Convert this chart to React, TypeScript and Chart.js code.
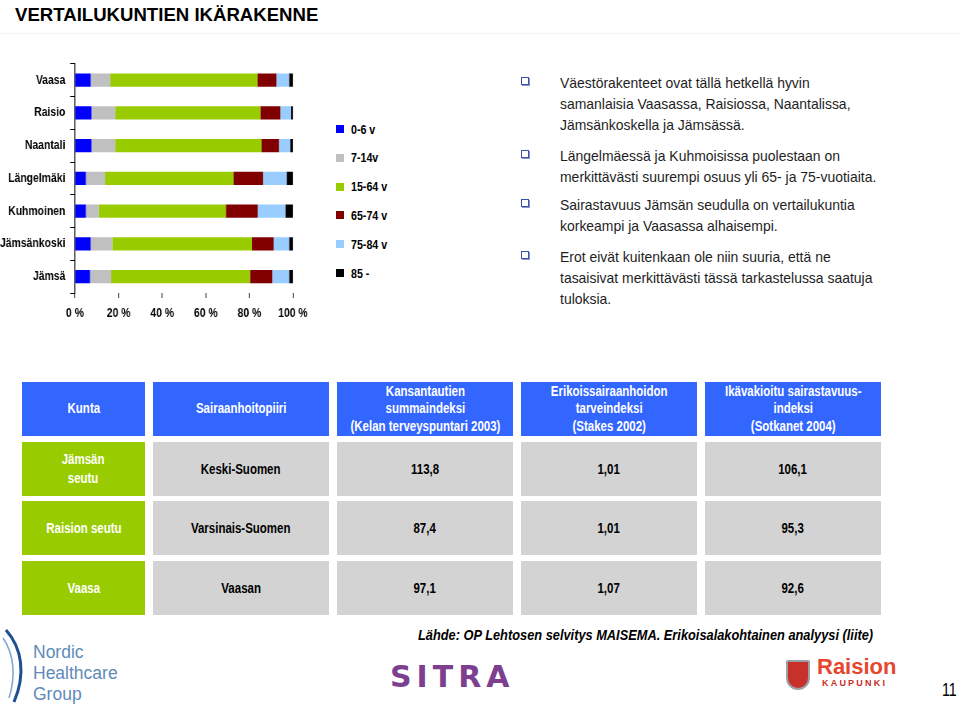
import React, { useEffect, useRef } from "react";
import { Chart, registerables } from "chart.js";

Chart.register(...registerables);

// ---------- Chart data ----------
const municipalities = ["Vaasa", "Raisio", "Naantali", "Längelmäki", "Kuhmoinen", "Jämsänkoski", "Jämsä"];
const ageGroups = ["0-6 v", "7-14v", "15-64 v", "65-74 v", "75-84 v", "85 -"];
const age0to6 = [7.2, 7.6, 7.6, 5.0, 5.0, 7.2, 6.9];
const age7to14 = [9.0, 10.9, 10.9, 8.7, 6.0, 9.9, 9.7];
const age15to64 = [67.5, 66.5, 67.1, 59.0, 58.2, 64.1, 63.7];
const age65to74 = [8.7, 9.2, 8.0, 13.6, 14.6, 9.9, 10.2];
const age75to84 = [5.8, 4.9, 5.2, 10.8, 12.8, 7.1, 7.7];
const age85plus = [1.8, 0.9, 1.2, 2.9, 3.4, 1.8, 1.8];
const ageColors = ["#0000FF", "#C0C0C0", "#99CC00", "#800000", "#99CCFF", "#000000"];
const xTickStep = 20;
const xTickSuffix = " %";

// ---------- Text ----------
const title = "VERTAILUKUNTIEN IKÄRAKENNE";
const bullets = [
  ["Väestörakenteet ovat tällä hetkellä hyvin", "samanlaisia Vaasassa, Raisiossa, Naantalissa,", "Jämsänkoskella ja Jämsässä."],
  ["Längelmäessä ja Kuhmoisissa puolestaan on", "merkittävästi suurempi osuus yli 65- ja 75-vuotiaita."],
  ["Sairastavuus Jämsän seudulla on  vertailukuntia", "korkeampi ja Vaasassa alhaisempi."],
  ["Erot eivät kuitenkaan ole niin suuria, että ne", "tasaisivat merkittävästi tässä tarkastelussa saatuja", "tuloksia."],
];

// ---------- Table data ----------
const tableHeaders = [
  ["Kunta"],
  ["Sairaanhoitopiiri"],
  ["Kansantautien", "summaindeksi", "(Kelan terveyspuntari 2003)"],
  ["Erikoissairaanhoidon", "tarveindeksi", "(Stakes 2002)"],
  ["Ikävakioitu sairastavuus-", "indeksi", "(Sotkanet 2004)"],
];
const regions = [["Jämsän", "seutu"], ["Raision seutu"], ["Vaasa"]];
const hospitalDistricts = ["Keski-Suomen", "Varsinais-Suomen", "Vaasan"];
const kelaIndex = ["113,8", "87,4", "97,1"];
const stakesIndex = ["1,01", "1,01", "1,07"];
const sotkanetIndex = ["106,1", "95,3", "92,6"];
const source = "Lähde:  OP Lehtosen selvitys MAISEMA. Erikoisalakohtainen analyysi (liite)";
const logoLines = ["Nordic", "Healthcare", "Group"];

const SANS = '"Liberation Sans", Arial, sans-serif';
const CHART_SQUEEZE = 0.8;

function AgeChart() {
  const ref = useRef<HTMLCanvasElement>(null);
  useEffect(() => {
    const canvas = ref.current;
    if (!canvas) return;
    const series = [age0to6, age7to14, age15to64, age65to74, age75to84, age85plus];
    const font = { family: SANS, size: 13, weight: "bold" as const };
    const chart = new Chart(canvas, {
      type: "bar",
      data: {
        labels: municipalities,
        datasets: series.map((d, i) => ({
          label: ageGroups[i],
          data: d,
          backgroundColor: ageColors[i],
          borderWidth: 0,
          barPercentage: 0.4,
          categoryPercentage: 1,
        })),
      },
      options: {
        indexAxis: "y",
        responsive: false,
        animation: false,
        devicePixelRatio: 1,
        layout: { padding: { top: 6, right: 33.75, left: 0, bottom: 0 } },
        plugins: { legend: { display: false }, tooltip: { enabled: false } },
        scales: {
          x: {
            stacked: true,
            min: 0,
            max: 100,
            ticks: {
              stepSize: xTickStep,
              callback: (v: any) => `${v}${xTickSuffix}`,
              color: "#000",
              font,
              padding: 8,
              maxRotation: 0,
            },
            grid: { drawOnChartArea: false, drawTicks: true, tickLength: 5, color: "#000" },
            border: { display: false },
            afterFit: (s: any) => {
              s.height = 40;
            },
          },
          y: {
            stacked: true,
            ticks: { color: "#000", font, padding: 6 },
            grid: { drawOnChartArea: false, tickLength: 6, color: "#000", offset: true },
            border: { display: true, color: "#000", width: 1.25 },
            afterFit: (s: any) => {
              s.width = 93.75;
            },
          },
        },
      },
    });
    return () => chart.destroy();
  }, []);
  return (
    <div
      style={{
        position: "absolute",
        left: 0,
        top: 50,
        width: 400,
        height: 283,
        transform: `scaleX(${CHART_SQUEEZE})`,
        transformOrigin: "left top",
      }}
    >
      <canvas ref={ref} width={400} height={283} style={{ display: "block" }} />
    </div>
  );
}

const cols = [
  [22, 145],
  [153, 329],
  [337, 513],
  [521, 697],
  [705, 881],
];
const rowsY = [
  [382, 436],
  [442, 496],
  [501, 555],
  [561, 615],
];

function Cell({ c, r, bg, color, lines, lh }: { c: number; r: number; bg: string; color: string; lines: string[]; lh: number }) {
  const [x0, x1] = cols[c];
  const [y0, y1] = rowsY[r];
  return (
    <div
      style={{
        position: "absolute",
        left: x0,
        top: y0,
        width: x1 - x0,
        height: y1 - y0,
        background: bg,
        color,
        display: "flex",
        alignItems: "center",
        justifyContent: "center",
      }}
    >
      <div
        style={{
          fontFamily: SANS,
          fontWeight: "bold",
          fontSize: 14,
          lineHeight: `${lh}px`,
          textAlign: "center",
          whiteSpace: "nowrap",
          transform: "scaleX(0.82)",
        }}
      >
        {lines.map((l, i) => (
          <div key={i}>{l}</div>
        ))}
      </div>
    </div>
  );
}

export default function App() {
  const legendTop0 = 129;
  const legendStep = 28.8;
  const bulletTops = [82, 155, 204, 256];
  const blue = "#3366FF";
  const green = "#99CC00";
  const gray = "#D3D3D3";
  const bodyRows = regions.map((r, i) => [r, [hospitalDistricts[i]], [kelaIndex[i]], [stakesIndex[i]], [sotkanetIndex[i]]]);
  return (
    <div
      style={{
        position: "fixed",
        left: 0,
        top: 0,
        width: 960,
        height: 707,
        background: "#fff",
        overflow: "hidden",
        fontFamily: SANS,
      }}
    >
      <div style={{ position: "absolute", left: 15, top: 4, fontSize: 18.6, fontWeight: "bold", fontFamily: SANS, color: "#000", whiteSpace: "nowrap" }}>
        {title}
      </div>
      <div style={{ position: "absolute", left: 0, top: 33, width: 960, height: 1, background: "#eef6f6" }} />

      <AgeChart />

      {ageGroups.map((g, i) => (
        <div key={g} style={{ position: "absolute", left: 336, top: legendTop0 + i * legendStep - 10, height: 20, display: "flex", alignItems: "center" }}>
          <div style={{ width: 8, height: 8, background: ageColors[i] }} />
          <div
            style={{
              marginLeft: 7,
              fontFamily: SANS,
              fontWeight: "bold",
              fontSize: 13,
              color: "#000",
              whiteSpace: "nowrap",
              transform: "scaleX(0.82)",
              transformOrigin: "left center",
            }}
          >
            {g}
          </div>
        </div>
      ))}

      {bullets.map((lines, i) => (
        <React.Fragment key={i}>
          <div
            style={{
              position: "absolute",
              left: 521,
              top: bulletTops[i] - 5,
              width: 6,
              height: 6,
              border: "1.5px solid #3a4fb0",
              boxShadow: "1px 1px 0 #8a94c8",
              background: "#fff",
            }}
          />
          <div
            style={{
              position: "absolute",
              left: 560,
              top: bulletTops[i] - 10.5,
              fontFamily: SANS,
              fontSize: 15,
              lineHeight: "21px",
              color: "#1e1e1e",
              whiteSpace: "nowrap",
              transform: "scaleX(0.93)",
              transformOrigin: "left top",
            }}
          >
            {lines.map((l, j) => (
              <div key={j}>{l}</div>
            ))}
          </div>
        </React.Fragment>
      ))}

      {tableHeaders.map((h, c) => (
        <Cell key={`h${c}`} c={c} r={0} bg={blue} color="#fff" lines={h} lh={17.5} />
      ))}
      {bodyRows.map((row, r) =>
        row.map((cell, c) => (
          <Cell key={`c${r}-${c}`} c={c} r={r + 1} bg={c === 0 ? green : gray} color={c === 0 ? "#fff" : "#000"} lines={cell} lh={19} />
        ))
      )}

      <div
        style={{
          position: "absolute",
          left: 418,
          top: 627,
          fontFamily: SANS,
          fontWeight: "bold",
          fontStyle: "italic",
          fontSize: 14,
          color: "#000",
          whiteSpace: "nowrap",
          transform: "scaleX(0.915)",
          transformOrigin: "left top",
        }}
      >
        {source}
      </div>

      {/* Nordic Healthcare Group logo */}
      <svg style={{ position: "absolute", left: 0, top: 628 }} width={32} height={76} viewBox="0 0 32 76">
        <path d="M6 2 C 22 20, 26 46, 14 74" stroke="#1f4f8f" strokeWidth={3} fill="none" />
        <path d="M3 10 C 14 26, 16 48, 9 70" stroke="#7fa6cf" strokeWidth={1.5} fill="none" />
      </svg>
      {logoLines.map((l, i) => (
        <div
          key={l}
          style={{
            position: "absolute",
            left: 33,
            top: 642 + i * 21,
            fontFamily: SANS,
            fontSize: 17.5,
            lineHeight: "20px",
            color: "#5f8ab8",
            whiteSpace: "nowrap",
          }}
        >
          {l}
        </div>
      ))}

      {/* SITRA */}
      <div style={{ position: "absolute", left: 390, top: 660, fontFamily: '"DejaVu Sans", sans-serif', fontWeight: "bold", fontSize: 30, lineHeight: "34px", letterSpacing: 5, color: "#7d3f90", whiteSpace: "nowrap" }}>
        SITRA
      </div>

      {/* Raision kaupunki */}
      <div style={{ position: "absolute", left: 786, top: 660, width: 24, height: 30, background: "#c8302c", border: "2px solid #9aa0a8", borderRadius: "2px 2px 12px 12px", boxSizing: "border-box" }} />
      <div style={{ position: "absolute", left: 817, top: 654, fontFamily: SANS, fontWeight: "bold", fontSize: 22, lineHeight: "26px", color: "#e6462e", whiteSpace: "nowrap" }}>
        Raision
      </div>
      <div style={{ position: "absolute", left: 822, top: 678, fontFamily: SANS, fontWeight: "bold", fontSize: 9, lineHeight: "11px", letterSpacing: 2.2, color: "#c8302c", whiteSpace: "nowrap" }}>
        KAUPUNKI
      </div>

      <div
        style={{
          position: "absolute",
          left: 942,
          top: 678,
          fontFamily: SANS,
          fontSize: 19,
          lineHeight: "24px",
          color: "#000",
          transform: "scaleX(0.75)",
          transformOrigin: "left top",
        }}
      >
        11
      </div>
    </div>
  );
}
